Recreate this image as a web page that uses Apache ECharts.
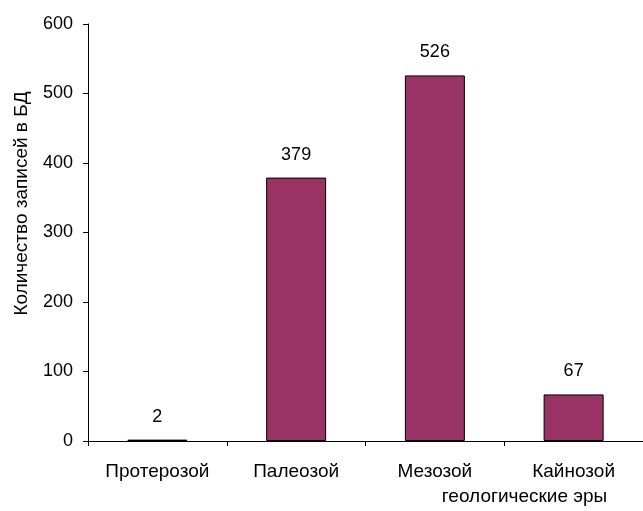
<!DOCTYPE html>
<html><head><meta charset="utf-8">
<script src="https://cdn.jsdelivr.net/npm/echarts@6/dist/echarts.min.js"></script>
<style>html,body{margin:0;padding:0;background:#fff}#c{width:643px;height:511px}</style>
</head><body><div id="c"></div>
<script>
const categories = ['Протерозой', 'Палеозой', 'Мезозой', 'Кайнозой'];
const values = [2, 379, 526, 67];
const yTicks = [0, 100, 200, 300, 400, 500, 600];
const xName = 'геологические эры';
const yName = 'Количество записей в БД';

const font = 'Liberation Sans, Arial, sans-serif';
const chart = echarts.init(document.getElementById('c'), null, {renderer: 'canvas'});
chart.setOption({
  animation: false,
  backgroundColor: '#fff',
  grid: {left: 88, top: 24, width: 561, height: 420, containLabel: false},
  xAxis: {
    type: 'category', data: categories,
    axisLine: {lineStyle: {color: '#000', width: 1}},
    axisTick: {show: true, length: 5, lineStyle: {color: '#000'}, alignWithLabel: false},
    axisLabel: {color: '#000', fontFamily: font, fontSize: 19, margin: 21},
    name: xName, nameLocation: 'middle', nameGap: 46,
    nameTextStyle: {color: '#000', fontFamily: font, fontSize: 19, padding: [0, 0, 0, 318]}
  },
  yAxis: {
    type: 'value', min: yTicks[0], max: yTicks[yTicks.length - 1], interval: 100,
    splitLine: {show: false},
    axisLine: {show: true, lineStyle: {color: '#000', width: 1}},
    axisTick: {show: true, length: 5, lineStyle: {color: '#000'}},
    axisLabel: {color: '#000', fontFamily: font, fontSize: 18, margin: 15},
    name: yName, nameLocation: 'middle', nameGap: 57, nameRotate: 90,
    nameTextStyle: {color: '#000', fontFamily: font, fontSize: 19, padding: [0, 0, 0, 58]}
  },
  series: [{
    type: 'bar', data: values, barWidth: 60,
    itemStyle: {color: '#993366', borderColor: '#000', borderWidth: 1},
    label: {show: true, position: 'top', distance: 14, color: '#000', fontFamily: font, fontSize: 18}
  }]
});
</script></body></html>
